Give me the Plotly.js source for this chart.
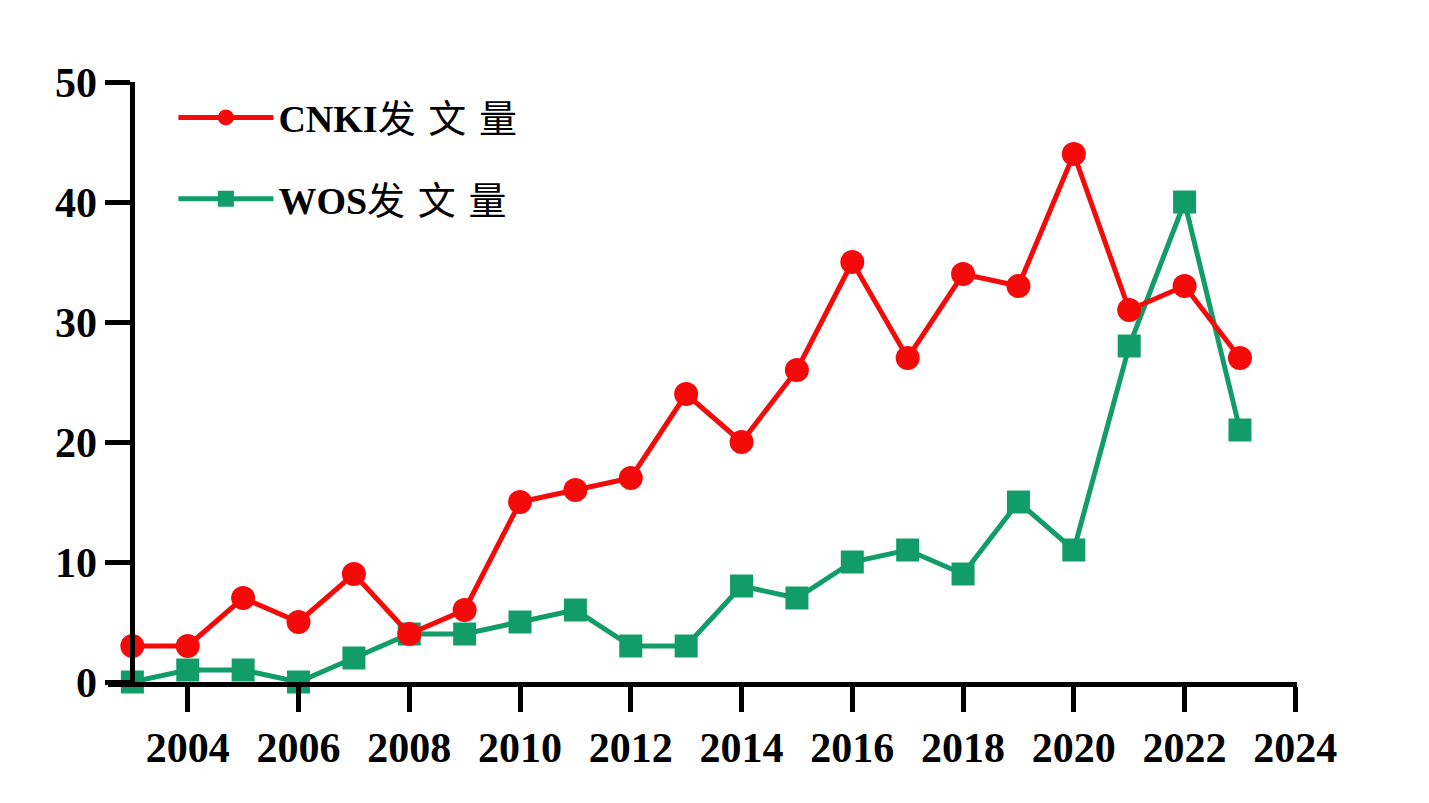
<!DOCTYPE html>
<html>
<head>
<meta charset="utf-8">
<script src="https://cdn.plot.ly/plotly-3.0.1.min.js"></script>
<style>html,body{margin:0;padding:0;background:#fff;}#chart{width:1429px;height:803px;}</style>
</head>
<body>
<div id="chart"></div>
<script>
const years = [2003,2004,2005,2006,2007,2008,2009,2010,2011,2012,2013,2014,2015,2016,2017,2018,2019,2020,2021,2022,2023];
const cnki = [3,3,7,5,9,4,6,15,16,17,24,20,26,35,27,34,33,44,31,33,27];
const wos  = [0,1,1,0,2,4,4,5,6,3,3,8,7,10,11,9,15,11,28,40,21];
const xTicks = [2004,2006,2008,2010,2012,2014,2016,2018,2020,2022,2024];
const yTicks = [0,10,20,30,40,50];
const sp = '\u00A0\u200A';
const nameCnki = '<b>CNKI</b>发' + sp + '文' + sp + '量';
const nameWos = '<b>WOS</b>发' + sp + '文' + sp + '量';

const red = '#F50A0A';
const green = '#129C6A';
const xr = [2002.56, 2024.03];
const yAxisAt = 2003;

const traces = [
  {x: years, y: wos, type: 'scatter', mode: 'lines+markers', name: nameWos, legendgroup: 'w', legendrank: 2,
   line: {color: green, width: 5}, marker: {symbol: 'square', size: 23, color: green},
   cliponaxis: false},
  {x: years, y: cnki, type: 'scatter', mode: 'lines+markers', name: nameCnki, legendgroup: 'c', legendrank: 1,
   line: {color: red, width: 5}, marker: {symbol: 'circle', size: 24, color: red},
   cliponaxis: false}
];

const tickFont = {family: 'Liberation Serif, Times New Roman, serif', size: 42, color: '#000', weight: 700};

const layout = {
  width: 1429, height: 803,
  margin: {l: 108, r: 132, t: 82, b: 121},
  paper_bgcolor: '#fff', plot_bgcolor: '#fff',
  showlegend: true,
  legend: {x: 0.055, y: 0.993, xanchor: 'left', yanchor: 'top',
    traceorder: 'grouped', itemwidth: 95,
    font: {family: 'Liberation Serif, Noto Sans CJK SC, serif', size: 38, color: '#000'},
    bgcolor: 'rgba(0,0,0,0)', tracegroupgap: 29},
  xaxis: {range: xr, tickvals: xTicks, ticktext: xTicks.map(String),
    showgrid: false, zeroline: false, showline: true, linecolor: '#000', linewidth: 5,
    ticks: 'outside', ticklen: 25, tickwidth: 5, tickcolor: '#000',
    tickfont: tickFont},
  yaxis: {range: [0, 50], tickvals: yTicks, ticktext: yTicks.map(String),
    anchor: 'free', position: (yAxisAt - xr[0]) / (xr[1] - xr[0]),
    showgrid: false, zeroline: false, showline: true, linecolor: '#000', linewidth: 5,
    ticks: 'outside', ticklen: 25, tickwidth: 5, tickcolor: '#000',
    tickfont: tickFont}
};

Plotly.newPlot('chart', traces, layout, {displayModeBar: false, staticPlot: true});
</script>
</body>
</html>
